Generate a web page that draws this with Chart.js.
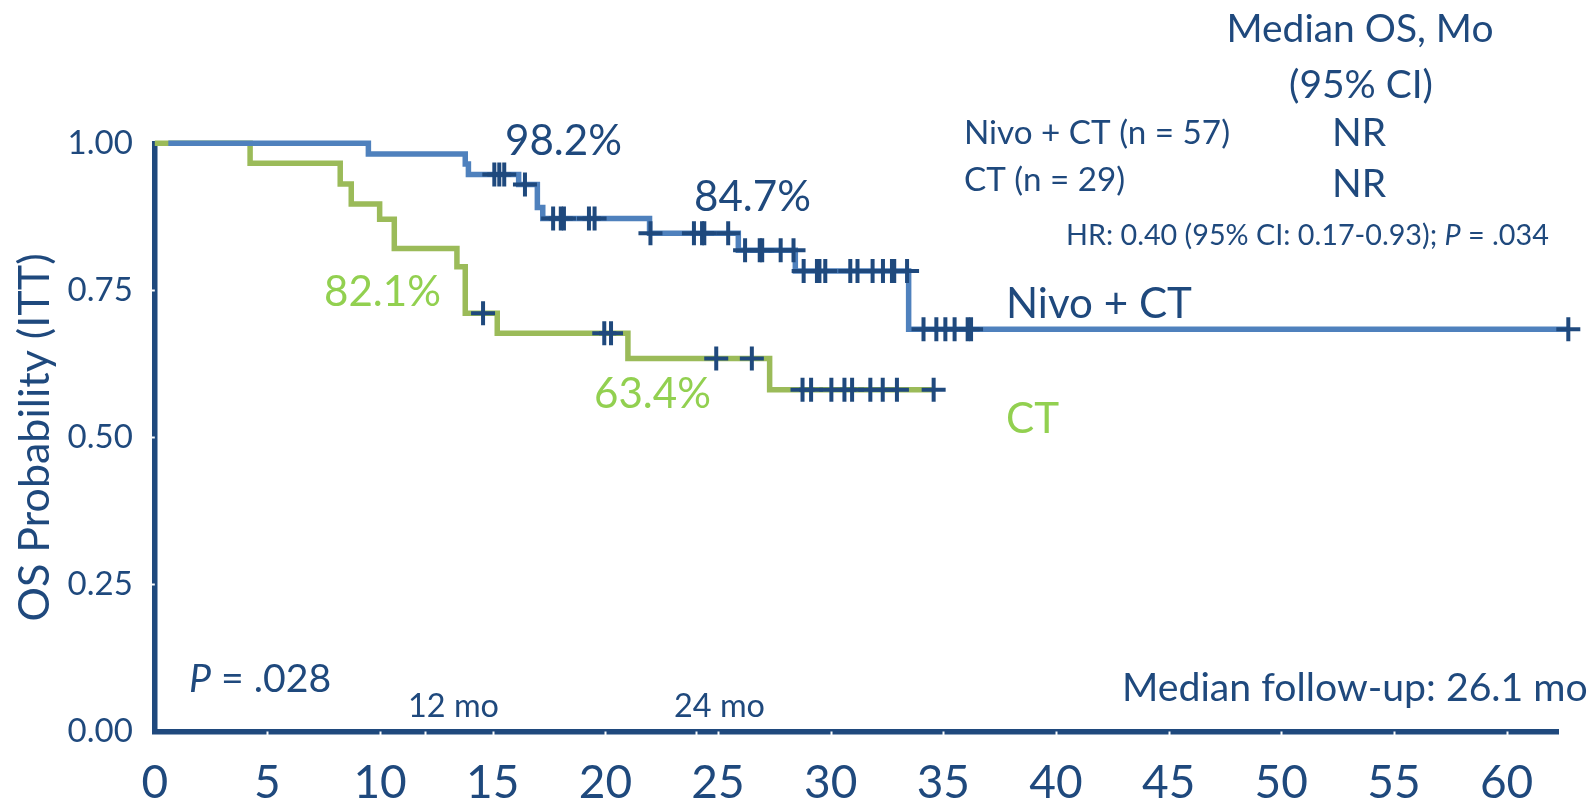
<!DOCTYPE html>
<html>
<head>
<meta charset="utf-8">
<title>Overall survival, Nivo + CT vs CT</title>
<script src="https://cdn.jsdelivr.net/npm/chart.js@4.4.1/dist/chart.umd.min.js"></script>
<style>
  html, body { margin: 0; padding: 0; background: #ffffff; }
  #wrap { width: 1594px; height: 799px; position: relative; }
</style>
</head>
<body>
<div id="wrap"><canvas id="km" width="1594" height="799"></canvas></div>
<script>
// ---- Kaplan-Meier data (months, survival probability) ----
const nivoTimes = [0.6, 9.48, 13.78, 13.92, 16.15, 16.98, 17.22, 21.96, 25.9, 28.43, 33.46, 62.74];
const nivoSurv  = [1.0, 0.982, 0.965, 0.947, 0.930, 0.891, 0.872, 0.847, 0.818, 0.783, 0.684, 0.684];
const nivoCensored = [15.07, 15.29, 15.51, 16.43, 17.68, 18.02, 18.16, 19.27, 19.52,
  22.0, 23.93, 24.29, 24.39, 25.45, 26.2, 26.85, 26.96, 27.78, 28.35,
  28.8, 29.39, 29.5, 29.76, 30.87, 31.19, 31.86, 32.32, 32.72, 32.82, 33.39,
  34.12, 34.69, 35.09, 35.5, 36.08, 36.23, 62.74];

const ctTimes = [0, 4.23, 8.23, 8.72, 9.98, 10.63, 13.41, 13.78, 15.2, 21.0, 27.29, 34.57];
const ctSurv  = [1.0, 0.966, 0.931, 0.897, 0.871, 0.821, 0.790, 0.711, 0.677, 0.634, 0.581, 0.581];
const ctCensored = [14.57, 19.95, 20.25, 24.92, 26.5, 28.75, 29.13, 30.03, 30.61, 30.95,
  31.76, 32.31, 32.94, 34.57];

// axis ticks and landmark months
const xTickValues = [0, 5, 10, 15, 20, 25, 30, 35, 40, 45, 50, 55, 60];
const yTickValues = [0, 0.25, 0.5, 0.75, 1.0];
const landmarkMonths = [12, 24];

// ---- colours ----
const NAVY = '#1F497D';
const BLUE = '#4F81BD';
const GREEN = '#9BBB59';
const LIGHT_GREEN = '#92D050';
const FONT = 'Lato, "Open Sans", sans-serif';

// survival value of a step curve at time t
function survAt(times, surv, t) {
  let v = surv[0];
  for (let i = 0; i < times.length; i++) {
    if (times[i] <= t) v = surv[i]; else break;
  }
  return v;
}
const pct = v => (v * 100).toFixed(1) + '%';

const nivoPoints = nivoTimes.map((t, i) => ({ x: t, y: nivoSurv[i] }));
const ctPoints = ctTimes.map((t, i) => ({ x: t, y: ctSurv[i] }));
const nivoCensorPoints = nivoCensored.map(t => ({ x: t, y: survAt(nivoTimes, nivoSurv, t) }));
const ctCensorPoints = ctCensored.map(t => ({ x: t, y: survAt(ctTimes, ctSurv, t) }));

// ---- annotation text ----
// font groups: each size is fitted so the reference string spans the given width
const fontGroups = {
  header: { ref: 'Median OS, Mo', width: 267 },
  arm:    { ref: 'Nivo + CT (n = 57)', width: 266 },
  hr:     { ref: 'HR: 0.40 (95% CI: 0.17-0.93); P = .034', width: 484 },
  big:    { ref: '98.2%', width: 117 },
  note:   { ref: 'Median follow-up: 26.1 mo', width: 466 },
  mark:   { ref: '12 mo', width: 91 }
};

const annotations = [
  { runs: [['Median OS, Mo']], group: 'header', x: 1360, y: 28, align: 'center', color: NAVY },
  { runs: [['(95% CI)']], group: 'header', x: 1361, y: 84, align: 'center', color: NAVY },
  { runs: [['Nivo + CT (n = 57)']], group: 'arm', x: 964, y: 132, align: 'left', color: NAVY },
  { runs: [['NR']], group: 'header', x: 1359, y: 132, align: 'center', color: NAVY },
  { runs: [['CT (n = 29)']], group: 'arm', x: 964, y: 179, align: 'left', color: NAVY },
  { runs: [['NR']], group: 'header', x: 1359, y: 183, align: 'center', color: NAVY },
  { runs: [['HR: 0.40 (95% CI: 0.17-0.93); '], ['P', true], [' = .034']], group: 'hr', x: 1066, y: 234, align: 'left', color: NAVY },
  { runs: [['Nivo + CT']], group: 'big', x: 1006, y: 302, align: 'left', color: NAVY },
  { runs: [['CT']], group: 'big', x: 1006, y: 417, align: 'left', color: LIGHT_GREEN },
  { runs: [[pct(survAt(nivoTimes, nivoSurv, 12))]], group: 'big', x: 505, y: 139, align: 'left', color: NAVY },
  { runs: [[pct(survAt(nivoTimes, nivoSurv, 24))]], group: 'big', x: 694, y: 195, align: 'left', color: NAVY },
  { runs: [[pct(survAt(ctTimes, ctSurv, 12))]], group: 'big', x: 324, y: 290, align: 'left', color: LIGHT_GREEN },
  { runs: [[pct(survAt(ctTimes, ctSurv, 24))]], group: 'big', x: 594, y: 392, align: 'left', color: LIGHT_GREEN },
  { runs: [['P', true], [' = .028']], group: 'note', x: 189, y: 678, align: 'left', color: NAVY },
  { runs: [['12 mo']], group: 'mark', x: 408, y: 705, align: 'left', color: NAVY },
  { runs: [['24 mo']], group: 'mark', x: 674, y: 705, align: 'left', color: NAVY },
  { runs: [['Median follow-up: 26.1 mo']], group: 'note', x: 1122, y: 687, align: 'left', color: NAVY }
];

function fontStr(size, italic) {
  return (italic ? 'italic ' : '') + size.toFixed(2) + 'px ' + FONT;
}

const textPlugin = {
  id: 'kmText',
  afterDraw(chart) {
    const ctx = chart.ctx;
    ctx.save();
    const sizes = {};
    for (const key in fontGroups) {
      const g = fontGroups[key];
      ctx.font = fontStr(100, false);
      const w = ctx.measureText(g.ref).width;
      sizes[key] = 100 * g.width / w;
    }
    for (const a of annotations) {
      const size = sizes[a.group];
      let total = 0;
      const widths = a.runs.map(r => {
        ctx.font = fontStr(size, !!r[1]);
        const w = ctx.measureText(r[0]).width;
        total += w;
        return w;
      });
      ctx.font = fontStr(size, false);
      const cap = ctx.measureText('H').actualBoundingBoxAscent;
      let x = a.align === 'center' ? a.x - total / 2 : a.x;
      const baseline = a.y + cap / 2;
      ctx.fillStyle = a.color;
      ctx.textAlign = 'left';
      ctx.textBaseline = 'alphabetic';
      a.runs.forEach((r, i) => {
        ctx.font = fontStr(size, !!r[1]);
        ctx.fillText(r[0], x, baseline);
        x += widths[i];
      });
    }
    ctx.restore();
  }
};

// small white notches cut into the axis lines at tick positions
const notchPlugin = {
  id: 'axisNotches',
  afterDatasetsDraw(chart) {
    const { ctx, chartArea, scales } = chart;
    ctx.save();
    ctx.strokeStyle = '#ffffff';
    ctx.lineWidth = 2;
    const xs = xTickValues.filter(v => v > 0).concat(landmarkMonths);
    xs.forEach(v => {
      const px = Math.round(scales.x.getPixelForValue(v)) + 0.5;
      ctx.beginPath();
      ctx.moveTo(px, chartArea.bottom);
      ctx.lineTo(px, chartArea.bottom + 4);
      ctx.stroke();
    });
    yTickValues.filter(v => v > 0 && v < 1).forEach(v => {
      const py = Math.round(scales.y.getPixelForValue(v)) + 0.5;
      ctx.beginPath();
      ctx.moveTo(chartArea.left - 4, py);
      ctx.lineTo(chartArea.left, py);
      ctx.stroke();
    });
    ctx.restore();
  }
};

const ctx = document.getElementById('km').getContext('2d');
new Chart(ctx, {
  type: 'line',
  data: {
    datasets: [
      { label: 'Nivo + CT censored', data: nivoCensorPoints, showLine: false,
        pointStyle: 'cross', pointRadius: 12, pointBorderWidth: 4,
        pointBorderColor: NAVY, pointBackgroundColor: NAVY, clip: false, order: 0 },
      { label: 'CT censored', data: ctCensorPoints, showLine: false,
        pointStyle: 'cross', pointRadius: 12, pointBorderWidth: 4,
        pointBorderColor: NAVY, pointBackgroundColor: NAVY, clip: false, order: 0 },
      { label: 'Nivo + CT', data: nivoPoints, stepped: 'before', borderColor: BLUE,
        borderWidth: 5.5, pointRadius: 0, fill: false, clip: false, order: 1 },
      { label: 'CT', data: ctPoints, stepped: 'before', borderColor: GREEN,
        borderWidth: 5.5, pointRadius: 0, fill: false, clip: false, order: 2 }
    ]
  },
  options: {
    responsive: false,
    animation: false,
    events: [],
    layout: { padding: { top: 143.3, right: 35.6, bottom: 0, left: 0 } },
    plugins: { legend: { display: false }, tooltip: { enabled: false } },
    scales: {
      x: {
        type: 'linear', min: 0, max: 62.3,
        afterBuildTicks: s => { s.ticks = xTickValues.map(v => ({ value: v })); },
        afterFit: s => { s.height = 67.5; },
        grid: { display: true, drawOnChartArea: false, drawTicks: false },
        border: { display: true, color: NAVY, width: 5.5 },
        ticks: { color: NAVY, font: { family: FONT, size: 46 }, padding: 24,
                 autoSkip: false, maxRotation: 0, callback: v => String(v) }
      },
      y: {
        type: 'linear', min: 0, max: 1,
        afterBuildTicks: s => { s.ticks = yTickValues.map(v => ({ value: v })); },
        afterFit: s => { s.width = 154.8; },
        grid: { display: true, drawOnChartArea: false, drawTicks: false },
        border: { display: true, color: NAVY, width: 5.5 },
        ticks: { color: NAVY, font: { family: FONT, size: 33 }, padding: 22,
                 callback: v => Number(v).toFixed(2) },
        title: { display: true, text: 'OS Probability (ITT)', color: NAVY,
                 font: { family: FONT, size: 43 }, padding: { top: 9, bottom: 0 } }
      }
    }
  },
  plugins: [notchPlugin, textPlugin]
});
</script>
</body>
</html>
